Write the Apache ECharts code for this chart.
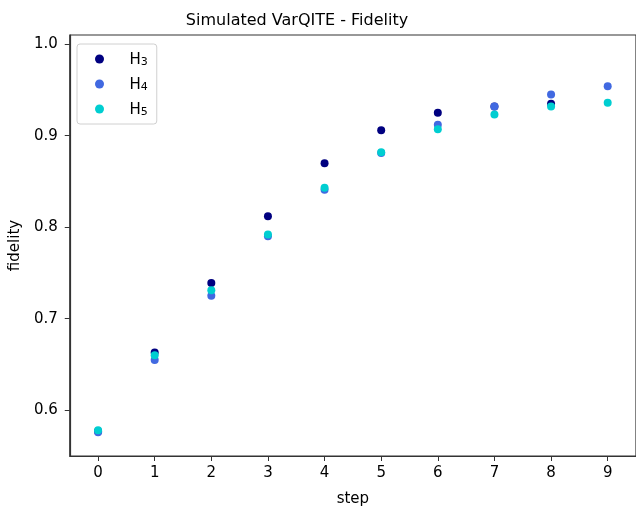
<!DOCTYPE html>
<html>
<head>
<meta charset="utf-8">
<script src="https://cdn.jsdelivr.net/npm/echarts@6/dist/echarts.min.js"></script>
<style>html,body{margin:0;padding:0;background:#fff;}#c{width:636px;height:512px;}</style>
</head>
<body>
<div id="c"></div>
<script>
var steps = [0, 1, 2, 3, 4, 5, 6, 7, 8, 9];
var h3 = [0.577, 0.663, 0.739, 0.812, 0.870, 0.906, 0.925, 0.932, 0.935, null];
var h4 = [0.576, 0.655, 0.725, 0.790, 0.841, 0.881, 0.912, 0.932, 0.945, 0.954];
var h5 = [0.578, 0.660, 0.731, 0.792, 0.843, 0.882, 0.907, 0.923, 0.932, 0.936];
var yTicks = [0.6, 0.7, 0.8, 0.9, 1.0];
var seriesNames = ['H3', 'H4', 'H5'];
var colors = ['#000080', '#4169E1', '#00CED1'];

function pairs(arr) {
  var out = [];
  for (var i = 0; i < steps.length; i++) {
    if (arr[i] !== null) out.push([steps[i], arr[i]]);
  }
  return out;
}
var font = 'DejaVu Sans';
var chart = echarts.init(document.getElementById('c'), null, {renderer: 'canvas'});
var allData = [h3, h4, h5];
chart.setOption({
  animation: false,
  backgroundColor: '#fff',
  title: {
    text: 'Simulated VarQITE - Fidelity',
    left: 292, top: 8, textAlign: 'center',
    textStyle: {fontFamily: font, fontSize: 16, fontWeight: 'normal', color: '#000'}
  },
  grid: {left: 69, top: 35, width: 570, height: 426, show: true, borderColor: '#333', borderWidth: 1.2, backgroundColor: 'transparent'},
  legend: {
    orient: 'vertical', left: 77, top: 44,
    padding: [7, 9, 6, 18], itemGap: 8,
    itemWidth: 40, itemHeight: 9,
    icon: 'circle',
    borderColor: '#d0d0d0', borderWidth: 1, borderRadius: 3,
    data: seriesNames,
    formatter: function (n) { return '{h|H}{s|' + n.slice(1) + '}'; },
    textStyle: {
      padding: [0, 0, 0, 5],
      rich: {
        h: {fontFamily: font, fontSize: 15, color: '#000', lineHeight: 18, verticalAlign: 'bottom'},
        s: {fontFamily: font, fontSize: 11, color: '#000', lineHeight: 18, verticalAlign: 'bottom', padding: [6, 0, 0, 0]}
      }
    }
  },
  xAxis: {
    type: 'value', min: -0.5, max: 9.5,
    name: 'step', nameLocation: 'middle', nameGap: 36,
    nameTextStyle: {fontFamily: font, fontSize: 15, color: '#000'},
    axisLine: {show: true, onZero: false, lineStyle: {color: '#333', width: 1.2}},
    axisTick: {show: true, length: 5, lineStyle: {color: '#333'}, customValues: steps},
    axisLabel: {fontFamily: font, fontSize: 15, color: '#000', margin: 10, customValues: steps, formatter: function (v) { return String(v); }},
    splitLine: {show: false}
  },
  yAxis: {
    type: 'value', min: 0.55, max: 1.01,
    name: 'fidelity', nameLocation: 'middle', nameGap: 41,
    nameTextStyle: {fontFamily: font, fontSize: 15, color: '#000'},
    axisLine: {show: true, onZero: false, lineStyle: {color: '#333', width: 1.2}},
    axisTick: {show: true, length: 5, lineStyle: {color: '#333'}, customValues: yTicks},
    axisLabel: {fontFamily: font, fontSize: 15, color: '#000', margin: 12, customValues: yTicks, formatter: function (v) { return v.toFixed(1); }},
    splitLine: {show: false}
  },
  series: seriesNames.map(function (n, i) {
    return {
      name: n, type: 'scatter', data: pairs(allData[i]),
      symbol: 'circle', symbolSize: 8,
      itemStyle: {color: colors[i], opacity: 1}
    };
  })
});
</script>
</body>
</html>
